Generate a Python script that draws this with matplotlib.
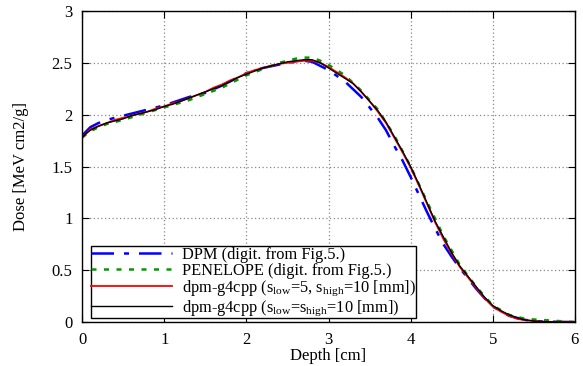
import matplotlib
matplotlib.use("Agg")
import matplotlib.pyplot as plt

plt.rcParams['font.family'] = ['Liberation Serif', 'DejaVu Serif']
plt.rcParams['mathtext.fontset'] = 'custom'
plt.rcParams['mathtext.rm'] = 'Liberation Serif'
plt.rcParams['mathtext.default'] = 'regular'

# данные
depth_g4 = [0.0, 0.05, 0.1, 0.2, 0.3, 0.4, 0.5, 0.6, 0.7, 0.8, 0.9, 1.0, 1.1, 1.2, 1.3,
            1.4, 1.5, 1.6, 1.7, 1.8, 1.9, 2.0, 2.1, 2.2, 2.3, 2.4, 2.5, 2.6, 2.7, 2.8,
            2.9, 3.0, 3.1, 3.2, 3.3, 3.4, 3.5, 3.6, 3.7, 3.8, 3.9, 4.0, 4.1, 4.2, 4.3,
            4.4, 4.5, 4.6, 4.7, 4.8, 4.9, 5.0, 5.1, 5.2, 5.3, 5.4, 5.5, 5.6, 5.8, 6.0]
dose_black = [1.78, 1.82, 1.85, 1.89, 1.92, 1.94, 1.96, 1.99, 2.01, 2.03, 2.05, 2.08, 2.10, 2.13, 2.16,
              2.19, 2.22, 2.25, 2.28, 2.32, 2.36, 2.39, 2.42, 2.45, 2.47, 2.49, 2.51, 2.52, 2.53, 2.53,
              2.50, 2.45, 2.40, 2.35, 2.30, 2.22, 2.13, 2.04, 1.93, 1.79, 1.65, 1.50, 1.33, 1.15, 0.97,
              0.82, 0.67, 0.54, 0.44, 0.34, 0.24, 0.16, 0.11, 0.07, 0.04, 0.02, 0.01, 0.005, 0.0, 0.0]
dose_red = [1.78, 1.82, 1.86, 1.89, 1.92, 1.95, 1.97, 1.99, 2.01, 2.03, 2.06, 2.08, 2.11, 2.13, 2.16,
            2.19, 2.22, 2.26, 2.29, 2.33, 2.36, 2.40, 2.43, 2.45, 2.47, 2.49, 2.50, 2.51, 2.52, 2.52,
            2.50, 2.46, 2.41, 2.36, 2.30, 2.22, 2.13, 2.03, 1.92, 1.78, 1.64, 1.49, 1.32, 1.14, 0.96,
            0.80, 0.66, 0.53, 0.43, 0.33, 0.23, 0.15, 0.10, 0.06, 0.03, 0.02, 0.01, 0.005, 0.0, 0.0]

depth_dpm = [0.0, 0.1, 0.2, 0.3, 0.5, 0.7, 1.0, 1.3, 1.5, 1.7, 2.0, 2.2, 2.5, 2.7, 2.8, 2.9,
             3.0, 3.2, 3.4, 3.5, 3.6, 3.7, 3.8, 3.9, 4.0, 4.1, 4.2, 4.3, 4.4, 4.5, 4.6, 4.7,
             4.8, 4.9, 5.0, 5.2, 5.4, 5.6, 6.0]
dose_dpm = [1.80, 1.88, 1.92, 1.95, 1.99, 2.03, 2.09, 2.17, 2.21, 2.28, 2.40, 2.45, 2.50, 2.52, 2.51, 2.47,
            2.43, 2.32, 2.17, 2.07, 1.97, 1.85, 1.70, 1.56, 1.40, 1.23, 1.06, 0.90, 0.75, 0.63, 0.52, 0.42,
            0.32, 0.23, 0.15, 0.06, 0.02, 0.005, 0.0]

depth_pen = [0.0, 0.1, 0.2, 0.3, 0.5, 0.7, 1.0, 1.3, 1.5, 1.7, 2.0, 2.2, 2.4, 2.6, 2.7, 2.8,
             2.9, 3.0, 3.2, 3.4, 3.6, 3.8, 4.0, 4.2, 4.4, 4.6, 4.8, 5.0, 5.2, 5.4, 5.6, 5.8, 6.0]
dose_pen = [1.78, 1.84, 1.88, 1.91, 1.95, 2.00, 2.07, 2.14, 2.20, 2.26, 2.38, 2.44, 2.50, 2.54, 2.55, 2.55,
            2.52, 2.48, 2.38, 2.23, 2.05, 1.80, 1.50, 1.16, 0.83, 0.55, 0.34, 0.16, 0.07, 0.03, 0.02, 0.01, 0.0]

fig = plt.figure(figsize=(5.83, 3.66), dpi=100)
ax = fig.add_axes([0.141, 0.12, 0.845, 0.85])

ax.plot(depth_dpm, dose_dpm, color='#0000ff', lw=1.8, dashes=(9, 4, 2, 4),
        label='DPM (digit. from Fig.5.)')
ax.plot(depth_pen, dose_pen, color='#009900', lw=1.8, dashes=(2, 3),
        label='PENELOPE (digit. from Fig.5.)')
ax.plot(depth_g4, dose_red, color='#ff0000', lw=1.3,
        label='dpm-g4cpp ($s_{low}$=5, $s_{high}$=10 [mm])')
ax.plot(depth_g4, dose_black, color='black', lw=1.0,
        label='dpm-g4cpp ($s_{low}$=$s_{high}$=10 [mm])')

ax.set_xlim(0, 6)
ax.set_ylim(0, 3)
ax.set_xticks([0, 1, 2, 3, 4, 5, 6])
ax.set_yticks([0, 0.5, 1, 1.5, 2, 2.5, 3])
ax.set_yticklabels(['0', '0.5', '1', '1.5', '2', '2.5', '3'])
ax.tick_params(direction='in', top=True, right=True, length=5, labelsize=12, pad=7)
ax.grid(True, color='#888888', linestyle=(0, (1, 2)), linewidth=0.9)
for s in ax.spines.values():
    s.set_linewidth(1.0)

ax.set_xlabel('Depth [cm]', fontsize=12, labelpad=0)
ax.set_ylabel('Dose [MeV cm2/g]', fontsize=12, labelpad=16)

leg = ax.legend(loc='upper left', bbox_to_anchor=(0.018, 0.243), fontsize=11.8,
                frameon=True, fancybox=False, framealpha=1, edgecolor='black',
                handlelength=4.9, handletextpad=0.6, borderpad=0.02,
                labelspacing=0.0, borderaxespad=0)
leg.get_frame().set_linewidth(1.0)

fig.savefig('out.png', dpi=100)
